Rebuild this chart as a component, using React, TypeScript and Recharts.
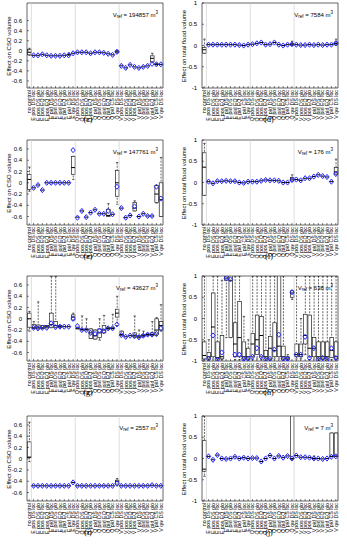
import React from 'react';
import { ComposedChart, Bar, Scatter, XAxis, YAxis, ReferenceLine, ReferenceArea } from 'recharts';

const FONT = '"Liberation Sans", Arial, sans-serif';

const categories = [
  'no control',
  'E pos DS loc', 'E pos DS glo', 'E pos EQ loc', 'E pos EQ glo', 'E pid DS loc',
  'E pid DS glo', 'E pid EQ loc', 'E pid EQ glo', 'E pid CS loc', 'E qw DS loc',
  'Q pos DS loc', 'Q pos DS glo', 'Q pos EQ loc', 'Q pos EQ glo', 'Q pid DS loc',
  'Q pid DS glo', 'Q pid EQ loc', 'Q pid EQ glo', 'Q pid CS loc', 'Q qw DS loc',
  'V pos DS loc', 'V pos DS glo', 'V pos EQ loc', 'V pos EQ glo', 'V pid DS loc',
  'V pid DS glo', 'V pid EQ loc', 'V pid EQ glo', 'V pid CS loc', 'V qw DS loc',
];

const csoTicks = [-0.6, -0.4, -0.2, 0, 0.2, 0.4, 0.6];
const floodTicks = [-1, -0.5, 0, 0.5, 1];

// each row: [whisker low, q1, median, q3, whisker high, blue marker]
const panelC = [
  [-0.09, -0.08, -0.03, 0.03, 0.05, null],
  [-0.09, -0.09, -0.09, -0.09, -0.09, -0.09], [-0.09, -0.09, -0.09, -0.09, -0.09, -0.09],
  [-0.07, -0.07, -0.07, -0.07, -0.07, -0.07], [-0.09, -0.09, -0.09, -0.09, -0.09, -0.09],
  [-0.1, -0.1, -0.1, -0.1, -0.1, -0.1], [-0.1, -0.1, -0.1, -0.1, -0.1, -0.1],
  [-0.1, -0.1, -0.1, -0.1, -0.1, -0.1], [-0.09, -0.09, -0.09, -0.09, -0.09, -0.09],
  [-0.09, -0.08, -0.08, -0.07, -0.04, -0.09], [-0.05, -0.05, -0.05, -0.05, -0.05, -0.05],
  [-0.03, -0.03, -0.03, -0.03, -0.03, -0.03], [-0.03, -0.03, -0.03, -0.03, -0.03, -0.03],
  [-0.03, -0.03, -0.03, -0.03, -0.03, -0.03], [-0.05, -0.05, -0.05, -0.05, -0.05, -0.05],
  [-0.03, -0.03, -0.03, -0.03, -0.03, -0.03], [-0.03, -0.03, -0.03, -0.03, -0.03, -0.03],
  [-0.04, -0.04, -0.04, -0.04, -0.04, -0.04], [-0.06, -0.06, -0.06, -0.06, -0.06, -0.06],
  [-0.08, -0.08, -0.08, -0.08, -0.08, -0.08], [-0.04, -0.04, -0.02, 0.0, 0.01, -0.02],
  [-0.3, -0.3, -0.3, -0.3, -0.3, -0.3], [-0.34, -0.34, -0.34, -0.34, -0.34, -0.34],
  [-0.28, -0.28, -0.28, -0.28, -0.28, -0.28], [-0.32, -0.32, -0.32, -0.32, -0.32, -0.32],
  [-0.34, -0.34, -0.34, -0.34, -0.34, -0.34], [-0.32, -0.32, -0.32, -0.32, -0.32, -0.32],
  [-0.3, -0.3, -0.3, -0.3, -0.3, -0.3], [-0.24, -0.22, -0.15, -0.1, -0.05, -0.26],
  [-0.28, -0.27, -0.27, -0.26, -0.25, -0.27], [-0.27, -0.27, -0.27, -0.27, -0.27, -0.27],
];

const panelD = [
  [-0.18, -0.18, -0.1, -0.05, 0.15, null],
  [0.02, 0.02, 0.02, 0.02, 0.02, 0.02], [0.02, 0.02, 0.02, 0.02, 0.02, 0.02],
  [0.02, 0.02, 0.02, 0.02, 0.02, 0.02], [0.02, 0.02, 0.02, 0.02, 0.02, 0.02],
  [0.02, 0.02, 0.02, 0.02, 0.02, 0.02], [0.02, 0.02, 0.02, 0.02, 0.02, 0.02],
  [0.02, 0.02, 0.02, 0.02, 0.02, 0.02], [0.01, 0.01, 0.01, 0.01, 0.01, 0.01],
  [0.0, 0.0, 0.0, 0.0, 0.0, 0.0], [0.02, 0.02, 0.02, 0.02, 0.02, 0.02],
  [0.03, 0.03, 0.03, 0.03, 0.03, 0.03], [0.05, 0.05, 0.05, 0.05, 0.05, 0.05],
  [0.07, 0.07, 0.07, 0.07, 0.07, 0.07], [0.02, 0.02, 0.02, 0.02, 0.02, 0.02],
  [0.03, 0.03, 0.03, 0.03, 0.03, 0.03], [0.07, 0.07, 0.07, 0.07, 0.07, 0.07],
  [0.02, 0.02, 0.02, 0.02, 0.02, 0.02], [0.0, 0.0, 0.0, 0.0, 0.0, 0.0],
  [0.02, 0.02, 0.02, 0.02, 0.02, 0.02], [0.0, 0.01, 0.03, 0.05, 0.1, 0.03],
  [0.02, 0.02, 0.02, 0.02, 0.02, 0.02], [0.01, 0.01, 0.01, 0.01, 0.01, 0.01],
  [0.01, 0.01, 0.01, 0.01, 0.01, 0.01], [0.02, 0.02, 0.02, 0.02, 0.02, 0.02],
  [0.01, 0.01, 0.01, 0.01, 0.01, 0.01], [0.02, 0.02, 0.02, 0.02, 0.02, 0.02],
  [0.01, 0.01, 0.01, 0.01, 0.01, 0.01], [0.02, 0.02, 0.02, 0.02, 0.02, 0.02],
  [0.02, 0.02, 0.02, 0.02, 0.02, 0.02], [0.0, 0.03, 0.05, 0.08, 0.15, 0.05],
];

const panelE = [
  [-0.15, -0.12, 0.06, 0.15, 0.28, null],
  [-0.09, -0.09, -0.09, -0.09, -0.09, -0.09], [-0.04, -0.04, -0.04, -0.04, -0.04, -0.04],
  [-0.13, -0.13, -0.13, -0.13, -0.13, -0.13], [0.0, 0.0, 0.0, 0.0, 0.0, 0.0],
  [0.0, 0.0, 0.0, 0.0, 0.0, 0.0], [0.0, 0.0, 0.0, 0.0, 0.0, 0.0],
  [0.0, 0.0, 0.0, 0.0, 0.0, 0.0], [0.0, 0.0, 0.0, 0.0, 0.0, 0.0],
  [0.0, 0.0, 0.0, 0.0, 0.0, 0.0], [0.06, 0.15, 0.27, 0.47, 0.47, 0.58],
  [-0.61, -0.61, -0.61, -0.61, -0.61, -0.62], [-0.5, -0.5, -0.5, -0.5, -0.5, -0.5],
  [-0.61, -0.61, -0.61, -0.61, -0.61, -0.61], [-0.53, -0.53, -0.53, -0.53, -0.53, -0.53],
  [-0.48, -0.48, -0.48, -0.48, -0.48, -0.48], [-0.55, -0.55, -0.55, -0.55, -0.55, -0.55],
  [-0.55, -0.55, -0.55, -0.55, -0.55, -0.55], [-0.6, -0.6, -0.58, -0.47, -0.37, -0.5],
  [-0.56, -0.56, -0.56, -0.56, -0.56, -0.56], [-0.38, -0.24, 0.0, 0.22, 0.36, -0.07],
  [-0.45, -0.45, -0.45, -0.45, -0.45, -0.45], [-0.62, -0.62, -0.62, -0.62, -0.62, -0.62],
  [-0.58, -0.58, -0.58, -0.58, -0.58, -0.58], [-0.5, -0.5, -0.45, -0.35, -0.32, -0.42],
  [-0.6, -0.6, -0.6, -0.6, -0.6, -0.6], [-0.55, -0.55, -0.55, -0.55, -0.55, -0.55],
  [-0.59, -0.59, -0.59, -0.59, -0.59, -0.59], [-0.59, -0.59, -0.59, -0.59, -0.59, -0.59],
  [-0.36, -0.35, -0.2, -0.05, -0.05, -0.07], [-0.6, -0.6, -0.3, 0.0, 0.45, -0.28],
];

const panelF = [
  [-0.3, -0.3, 0.36, 0.7, 0.92, null],
  [0.02, 0.02, 0.02, 0.02, 0.02, 0.02], [-0.02, -0.02, -0.02, -0.02, -0.02, -0.02],
  [0.03, 0.03, 0.03, 0.03, 0.03, 0.03], [0.03, 0.03, 0.03, 0.03, 0.03, 0.03],
  [0.04, 0.04, 0.04, 0.04, 0.04, 0.04], [0.03, 0.03, 0.03, 0.03, 0.03, 0.03],
  [0.03, 0.03, 0.03, 0.03, 0.03, 0.03], [0.0, 0.0, 0.0, 0.0, 0.0, 0.0],
  [-0.01, -0.01, -0.01, -0.01, -0.01, -0.01], [0.02, 0.02, 0.02, 0.02, 0.02, 0.02],
  [0.02, 0.02, 0.02, 0.02, 0.02, 0.02], [0.02, 0.02, 0.02, 0.02, 0.02, 0.02],
  [0.04, 0.04, 0.04, 0.04, 0.04, 0.04], [0.06, 0.06, 0.06, 0.06, 0.06, 0.06],
  [0.05, 0.05, 0.05, 0.05, 0.05, 0.05], [0.05, 0.05, 0.05, 0.05, 0.05, 0.05],
  [0.04, 0.04, 0.04, 0.04, 0.04, 0.04], [0.0, 0.0, 0.0, 0.0, 0.0, 0.0],
  [0.0, 0.0, 0.0, 0.0, 0.0, 0.0], [0.02, 0.04, 0.08, 0.12, 0.18, 0.06],
  [0.07, 0.07, 0.07, 0.07, 0.07, 0.07], [0.05, 0.05, 0.05, 0.05, 0.05, 0.05],
  [0.1, 0.1, 0.1, 0.1, 0.1, 0.1], [0.1, 0.1, 0.1, 0.1, 0.1, 0.1],
  [0.14, 0.14, 0.14, 0.14, 0.14, 0.14], [0.18, 0.18, 0.18, 0.18, 0.18, 0.18],
  [0.15, 0.15, 0.15, 0.15, 0.15, 0.15], [0.13, 0.13, 0.13, 0.13, 0.13, 0.13],
  [0.02, 0.02, 0.02, 0.02, 0.02, 0.02], [0.18, 0.2, 0.25, 0.35, 0.55, 0.2],
];

const panelG = [
  [-0.22, -0.15, 0.0, 0.1, 0.13, null],
  [-0.17, -0.17, -0.16, -0.1, -0.05, -0.16], [-0.18, -0.18, -0.16, -0.11, 0.3, -0.17],
  [-0.17, -0.17, -0.16, -0.12, -0.12, -0.16], [-0.16, -0.16, -0.14, -0.12, -0.12, -0.16],
  [-0.16, -0.15, -0.1, 0.1, 0.75, -0.08], [-0.16, -0.15, -0.12, -0.05, 0.75, -0.15],
  [-0.15, -0.15, -0.14, -0.12, -0.12, -0.14], [-0.14, -0.14, -0.14, -0.14, -0.14, -0.14],
  [-0.14, -0.14, -0.14, -0.14, -0.14, -0.14], [-0.02, -0.02, 0.03, 0.07, 0.1, 0.0],
  [-0.18, -0.18, -0.17, -0.15, -0.15, -0.13], [-0.2, -0.2, -0.19, -0.18, 0.05, -0.2],
  [-0.2, -0.2, -0.19, -0.18, 0.0, -0.2], [-0.35, -0.35, -0.25, -0.18, -0.18, -0.25],
  [-0.36, -0.36, -0.3, -0.2, -0.2, -0.27], [-0.38, -0.33, -0.25, -0.18, 0.0, -0.21],
  [-0.25, -0.25, -0.2, -0.12, 0.06, -0.22], [-0.18, -0.18, -0.17, -0.16, -0.16, -0.17],
  [-0.18, -0.17, -0.17, -0.15, 0.08, -0.17], [-0.12, 0.03, 0.1, 0.17, 0.4, -0.1],
  [-0.3, -0.3, -0.28, -0.22, -0.22, -0.29], [-0.32, -0.32, -0.32, -0.32, -0.32, -0.32],
  [-0.3, -0.3, -0.3, -0.3, -0.3, -0.3], [-0.33, -0.32, -0.3, -0.25, 0.05, -0.31],
  [-0.34, -0.33, -0.32, -0.3, -0.2, -0.33], [-0.32, -0.31, -0.3, -0.28, -0.22, -0.3],
  [-0.3, -0.29, -0.28, -0.27, -0.27, -0.28], [-0.3, -0.3, -0.28, -0.25, -0.05, -0.28],
  [-0.3, -0.27, -0.2, 0.0, 0.02, -0.27], [-0.22, -0.2, -0.12, -0.05, 0.25, -0.17],
];

const panelH = [
  [-0.97, -0.95, -0.87, -0.55, 1.0, null],
  [-0.97, -0.95, -0.9, -0.8, -0.5, -0.95], [-0.95, -0.9, -0.2, 0.6, 1.0, -0.4],
  [-0.98, -0.95, -0.92, -0.55, 1.0, -0.97], [-0.97, -0.95, -0.9, -0.4, 0.9, -0.8],
  [-0.45, 0.9, 0.95, 1.0, 1.0, 0.95], [-0.45, -0.45, 0.9, 1.0, 1.0, 0.92],
  [-0.97, -0.9, -0.6, -0.1, 1.0, -0.85], [-0.97, -0.9, -0.45, 0.4, 1.0, -0.85],
  [-0.98, -0.95, -0.9, -0.55, 0.05, -0.95], [-0.98, -0.95, -0.9, -0.7, -0.5, -0.95],
  [-0.97, -0.9, -0.6, -0.35, 1.0, -0.9], [-0.95, -0.85, -0.5, 0.08, 1.0, -0.7],
  [-0.97, -0.9, -0.4, 0.05, 1.0, -0.9], [-0.98, -0.95, -0.9, -0.75, 1.0, -0.97],
  [-0.98, -0.95, -0.7, -0.42, 1.0, -0.95], [-0.95, -0.9, -0.75, -0.1, 1.0, -0.73],
  [-0.95, -0.9, -0.65, 1.0, 1.0, -0.38], [-0.98, -0.95, -0.9, -0.65, 1.0, -0.95],
  [-0.98, -0.96, -0.93, -0.9, -0.85, -0.95], [0.45, 0.5, 0.6, 0.65, 0.65, 0.62],
  [-0.95, -0.9, -0.85, -0.6, 1.0, -0.85], [-0.95, -0.9, -0.85, -0.6, 0.0, -0.85],
  [-0.85, -0.6, -0.4, 0.1, 1.0, -0.43], [-0.97, -0.9, -0.7, 0.08, 1.0, -0.93],
  [-0.95, -0.9, -0.7, -0.45, 1.0, -0.7], [-0.98, -0.95, -0.9, -0.55, 1.0, -0.97],
  [-0.97, -0.95, -0.9, -0.55, 1.0, -0.93], [-0.97, -0.95, -0.9, -0.55, 1.0, -0.97],
  [-0.97, -0.92, -0.75, -0.45, 1.0, -0.7], [-0.97, -0.95, -0.9, -0.55, 1.0, -0.93],
];

const panelI = [
  [-0.05, 0.02, 0.03, 0.3, 0.65, null],
  [-0.48, -0.48, -0.48, -0.48, -0.48, -0.48], [-0.48, -0.48, -0.48, -0.48, -0.48, -0.48],
  [-0.48, -0.48, -0.48, -0.48, -0.48, -0.48], [-0.48, -0.48, -0.48, -0.48, -0.48, -0.48],
  [-0.48, -0.48, -0.48, -0.48, -0.48, -0.48], [-0.48, -0.48, -0.48, -0.48, -0.48, -0.48],
  [-0.48, -0.48, -0.48, -0.48, -0.48, -0.48], [-0.48, -0.48, -0.48, -0.48, -0.48, -0.48],
  [-0.48, -0.48, -0.48, -0.48, -0.48, -0.48], [-0.42, -0.42, -0.42, -0.42, -0.42, -0.42],
  [-0.48, -0.48, -0.48, -0.48, -0.48, -0.48], [-0.48, -0.48, -0.48, -0.48, -0.48, -0.48],
  [-0.48, -0.48, -0.48, -0.48, -0.48, -0.48], [-0.48, -0.48, -0.48, -0.48, -0.48, -0.48],
  [-0.48, -0.48, -0.48, -0.48, -0.48, -0.48], [-0.48, -0.48, -0.48, -0.48, -0.48, -0.48],
  [-0.48, -0.48, -0.48, -0.48, -0.48, -0.48], [-0.48, -0.48, -0.48, -0.48, -0.48, -0.48],
  [-0.48, -0.48, -0.48, -0.48, -0.48, -0.48], [-0.48, -0.45, -0.4, -0.38, -0.35, -0.44],
  [-0.48, -0.48, -0.48, -0.48, -0.48, -0.48], [-0.48, -0.48, -0.48, -0.48, -0.48, -0.48],
  [-0.48, -0.48, -0.48, -0.48, -0.48, -0.48], [-0.48, -0.48, -0.48, -0.48, -0.48, -0.48],
  [-0.48, -0.48, -0.48, -0.48, -0.48, -0.48], [-0.48, -0.48, -0.48, -0.48, -0.48, -0.48],
  [-0.48, -0.48, -0.48, -0.48, -0.48, -0.48], [-0.47, -0.47, -0.47, -0.47, -0.47, -0.47],
  [-0.48, -0.48, -0.48, -0.48, -0.48, -0.48], [-0.48, -0.48, -0.48, -0.48, -0.48, -0.48],
];

const panelJ = [
  [-0.42, -0.3, -0.25, 0.42, 1.0, null],
  [0.05, 0.05, 0.05, 0.05, 0.05, 0.05], [-0.03, -0.03, -0.03, -0.03, -0.03, -0.03],
  [0.08, 0.08, 0.08, 0.08, 0.08, 0.08], [0.0, 0.0, 0.0, 0.0, 0.0, 0.0],
  [-0.01, -0.01, -0.01, -0.01, -0.01, -0.01], [0.0, 0.0, 0.0, 0.0, 0.0, 0.0],
  [0.04, 0.04, 0.04, 0.04, 0.04, 0.04], [0.0, 0.0, 0.0, 0.0, 0.0, 0.0],
  [0.02, 0.02, 0.02, 0.02, 0.02, 0.02], [0.0, 0.0, 0.0, 0.0, 0.0, 0.0],
  [0.01, 0.01, 0.01, 0.01, 0.01, 0.01], [0.01, 0.01, 0.01, 0.01, 0.01, 0.01],
  [-0.07, -0.07, -0.07, -0.07, -0.07, -0.07], [0.0, 0.0, 0.0, 0.0, 0.0, 0.0],
  [0.07, 0.07, 0.07, 0.07, 0.07, 0.07], [0.0, 0.0, 0.0, 0.0, 0.0, 0.0],
  [0.06, 0.06, 0.06, 0.06, 0.06, 0.06], [0.02, 0.02, 0.02, 0.02, 0.02, 0.02],
  [0.06, 0.06, 0.06, 0.06, 0.06, 0.06], [-0.02, -0.01, 0.0, 1.0, 1.0, 0.0],
  [0.07, 0.07, 0.07, 0.07, 0.07, 0.07], [0.03, 0.03, 0.03, 0.03, 0.03, 0.03],
  [0.03, 0.03, 0.03, 0.03, 0.03, 0.03], [0.02, 0.02, 0.02, 0.02, 0.02, 0.02],
  [-0.01, -0.01, 0.0, 0.0, 0.06, 0.0], [0.0, 0.0, 0.0, 0.0, 0.0, 0.0],
  [-0.01, -0.01, -0.01, -0.01, -0.01, -0.01], [0.0, 0.0, 0.0, 0.0, 0.0, 0.0],
  [0.04, 0.05, 0.05, 0.6, 0.6, 0.04], [0.05, 0.05, 0.06, 0.6, 0.6, 0.05],
];

const rowTops = [3, 140, 276, 416];

const RotTick = (p: any) => (
  <text
    x={p.x}
    y={p.y}
    transform={`rotate(-90 ${p.x} ${p.y})`}
    textAnchor="end"
    dy="0.35em"
    fontSize={5.3}
    fontFamily={FONT}
    fill="#000"
  >
    {p.payload.value}
  </text>
);

const Whisker = (p: any) => {
  const top = Math.min(p.y, p.y + p.height);
  const h = Math.abs(p.height);
  if (!(h > 0.3)) return <g />;
  const cx = p.x + p.width / 2;
  return (
    <g stroke="#000" strokeWidth={0.6}>
      <line x1={cx} x2={cx} y1={top} y2={top + h} strokeDasharray="2 1.2" />
      <line x1={cx - 1.2} x2={cx + 1.2} y1={top} y2={top} />
      <line x1={cx - 1.2} x2={cx + 1.2} y1={top + h} y2={top + h} />
    </g>
  );
};

const BoxShape = (p: any) => {
  const top = Math.min(p.y, p.y + p.height);
  const h = Math.abs(p.height);
  if (!(h > 0.3)) return <g />;
  const cx = p.x + p.width / 2;
  return <rect x={cx - 1.8} y={top} width={3.6} height={h} fill="#fff" stroke="#222" strokeWidth={0.7} />;
};

const Median = (p: any) => (
  <line x1={p.cx - 1.9} x2={p.cx + 1.9} y1={p.cy} y2={p.cy} stroke="#000" strokeWidth={1} />
);

const Marker = (p: any) => {
  if (p.payload == null || p.payload.mk == null) return <g />;
  const { cx, cy } = p;
  return (
    <path
      d={`M${cx},${cy - 2.6}L${cx + 2.1},${cy}L${cx},${cy + 2.6}L${cx - 2.1},${cy}Z`}
      fill="none"
      stroke="#2a2aff"
      strokeWidth={1}
    />
  );
};

function Panel({ stats, domain, ticks, left, top, title, vref, tag, side }: any) {
  const rows = categories.map((name, i) => {
    const [lo, q1, md, q3, hi, mk] = stats[i];
    return { name, wh: [lo, hi], box: [q1, q3], md, mk };
  });
  const plotLeft = left + 27;
  const labelRight = side === 'L' ? 347 - 158 : 347 - 333;
  return (
    <>
      <div style={{ position: 'absolute', left, top: top - 3 }}>
        <ComposedChart
          width={166}
          height={122}
          data={rows}
          margin={{ top: 2, right: 2, bottom: 0, left: 0 }}
          style={{ fontFamily: FONT }}
        >
          <XAxis
            dataKey="name"
            xAxisId="t"
            orientation="top"
            height={1}
            interval={0}
            tick={false}
            tickSize={-2}
            axisLine={false}
            tickLine={{ stroke: '#000', strokeWidth: 0.5 }}
          />
          <XAxis
            dataKey="name"
            height={34}
            interval={0}
            tickSize={-2}
            tickMargin={4}
            axisLine={false}
            tickLine={{ stroke: '#000', strokeWidth: 0.5 }}
            tick={<RotTick />}
          />
          <YAxis
            type="number"
            domain={domain}
            ticks={ticks}
            interval={0}
            allowDataOverflow
            width={27}
            tickSize={-2}
            tickMargin={7}
            axisLine={false}
            tickLine={{ stroke: '#000', strokeWidth: 0.5 }}
            tick={{ fontSize: 6, fill: '#000' }}
          />
          <YAxis
            yAxisId="r"
            orientation="right"
            type="number"
            domain={domain}
            ticks={ticks}
            interval={0}
            allowDataOverflow
            width={1}
            tick={false}
            tickSize={-2}
            axisLine={false}
            tickLine={{ stroke: '#000', strokeWidth: 0.5 }}
          />
          <ReferenceLine x={categories[1]} position="start" stroke="#cfcfcf" strokeWidth={0.7} />
          <ReferenceLine x={categories[11]} position="start" stroke="#cfcfcf" strokeWidth={0.7} />
          <ReferenceLine x={categories[21]} position="start" stroke="#cfcfcf" strokeWidth={0.7} />
          <ReferenceArea y1={domain[0]} y2={domain[1]} fill="none" stroke="#000" strokeWidth={0.6} />
          <Bar xAxisId="t" dataKey="wh" shape={Whisker} isAnimationActive={false} />
          <Bar dataKey="box" shape={BoxShape} isAnimationActive={false} />
          <Scatter dataKey="md" shape={Median} isAnimationActive={false} />
          <Scatter dataKey="mk" shape={Marker} isAnimationActive={false} />
        </ComposedChart>
      </div>
      <div
        style={{
          position: 'absolute',
          left: plotLeft - 18,
          top: top + 42.5,
          transform: 'translate(-50%, -50%) rotate(-90deg)',
          whiteSpace: 'nowrap',
          fontSize: 6,
          fontFamily: FONT,
        }}
      >
        {title}
      </div>
      <div
        style={{
          position: 'absolute',
          right: labelRight,
          top: top + 6,
          whiteSpace: 'nowrap',
          fontSize: 6,
          lineHeight: '7px',
          fontFamily: FONT,
        }}
      >
        V<sub style={{ fontSize: 4.5, verticalAlign: '-1.5px' }}>ref</sub> = {vref} m
        <sup style={{ fontSize: 4.5, verticalAlign: '2.5px' }}>3</sup>
      </div>
      <div
        style={{
          position: 'absolute',
          left: side === 'L' ? 88 : 269,
          top: top + 116,
          transform: 'translate(-50%, -50%)',
          fontSize: 8,
          fontFamily: '"Liberation Serif", serif',
        }}
      >
        ({tag})
      </div>
    </>
  );
}

const csoTitle = 'Effect on CSO volume';
const floodTitle = 'Effect on total flood volume';

export default function App() {
  return (
    <div style={{ position: 'absolute', left: 0, top: 0, width: 347, height: 550, background: '#fff' }}>
      <Panel stats={panelC} domain={[-0.74, 0.95]} ticks={csoTicks} left={0} top={rowTops[0]} title={csoTitle} vref="194857" tag="c" side="L" />
      <Panel stats={panelD} domain={[-1, 1]} ticks={floodTicks} left={175} top={rowTops[0]} title={floodTitle} vref="7584" tag="d" side="R" />
      <Panel stats={panelE} domain={[-0.75, 0.76]} ticks={csoTicks} left={0} top={rowTops[1]} title={csoTitle} vref="147761" tag="e" side="L" />
      <Panel stats={panelF} domain={[-1, 1]} ticks={floodTicks} left={175} top={rowTops[1]} title={floodTitle} vref="176" tag="f" side="R" />
      <Panel stats={panelG} domain={[-0.75, 0.76]} ticks={csoTicks} left={0} top={rowTops[2]} title={csoTitle} vref="43627" tag="g" side="L" />
      <Panel stats={panelH} domain={[-1, 1]} ticks={floodTicks} left={175} top={rowTops[2]} title={floodTitle} vref="638" tag="h" side="R" />
      <Panel stats={panelI} domain={[-0.75, 0.76]} ticks={csoTicks} left={0} top={rowTops[3]} title={csoTitle} vref="2557" tag="i" side="L" />
      <Panel stats={panelJ} domain={[-1, 1]} ticks={floodTicks} left={175} top={rowTops[3]} title={floodTitle} vref="7" tag="j" side="R" />
    </div>
  );
}
